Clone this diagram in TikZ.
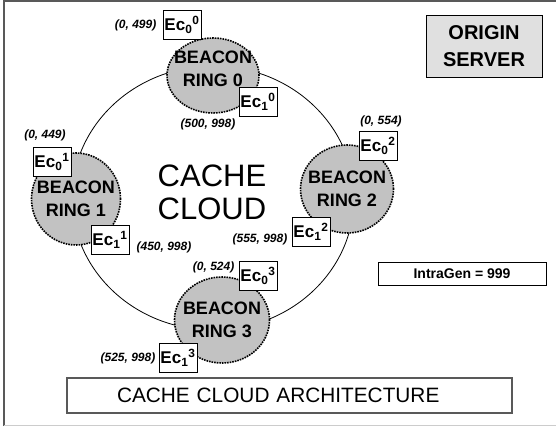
\documentclass[tikz,border=0pt]{standalone}
\usepackage{fontspec}
\setmainfont{Liberation Sans}
\usetikzlibrary{shapes.geometric, positioning}

\definecolor{ringgray}{gray}{0.76}
\definecolor{servergray}{gray}{0.88}
\definecolor{framegray}{gray}{0.35}

\begin{document}
\begin{tikzpicture}[x=1pt,y=1pt,
		ring node/.style={ellipse,draw,fill=ringgray,densely dotted,line width=1.6pt,inner sep=0pt},
		ring text/.style={font=\fontsize{18}{23}\selectfont\bfseries,align=center,inner sep=0pt},
		ec node/.style={rectangle,draw,fill=white,line width=0.9pt,minimum width=38pt,minimum height=29pt,inner sep=1pt,font=\fontsize{17}{18}\selectfont\bfseries},
		coord label/.style={font=\fontsize{12}{14}\selectfont\bfseries\itshape,inner sep=0pt}]
		
		\useasboundingbox (0,0) rectangle (556,426);
		\draw[framegray,line width=2pt] (4,0) -- (4,425) -- (556,425);
		\draw[black!20,line width=0.8pt] (4,0.5) -- (556,0.5);
		
		% the cloud itself
		\draw[line width=0.8pt] (213,228) ellipse [x radius=141, y radius=132];
		\node[font=\fontsize{31}{33}\selectfont,align=center] (cloud) at (212,234) {CACHE\\CLOUD};
		
		% beacon rings
		\node[ring node,minimum width=92pt,minimum height=75pt,label={[ring text,yshift=7pt]center:BEACON\\RING 0}] (ring0) at (213,350.5) {};
		\node[ring node,minimum width=89pt,minimum height=92pt,label={[ring text]center:BEACON\\RING 1}] (ring1) at (76,227) {};
		\node[ring node,minimum width=93pt,minimum height=88pt,label={[ring text]center:BEACON\\RING 2}] (ring2) at (347,237) {};
		\node[ring node,minimum width=95pt,minimum height=86pt,label={[ring text]center:BEACON\\RING 3}] (ring3) at (222,106) {};
		
		% end caches
		\node[ec node] (e00) at (182,401) {Ec\textsubscript{0}\textsuperscript{0}};
		\node[ec node] (e10) at (258,324) {Ec\textsubscript{1}\textsuperscript{0}};
		\node[ec node] (e01) at (52,264) {Ec\textsubscript{0}\textsuperscript{1}};
		\node[ec node] (e11) at (110,186) {Ec\textsubscript{1}\textsuperscript{1}};
		\node[ec node] (e02) at (378,280) {Ec\textsubscript{0}\textsuperscript{2}};
		\node[ec node] (e12) at (311,194) {Ec\textsubscript{1}\textsuperscript{2}};
		\node[ec node] (e03) at (258,150) {Ec\textsubscript{0}\textsuperscript{3}};
		\node[ec node] (e13) at (178,68) {Ec\textsubscript{1}\textsuperscript{3}};
		
		% ranges
		\node[coord label,left=6pt of e00] (r00) {(0, 499)};
		\node[coord label,below=5pt of ring0,xshift=-5pt] (r10) {(500, 998)};
		\node[coord label,above=6pt of e01,xshift=-7pt] (r01) {(0, 449)};
		\node[coord label,right=7pt of e11,yshift=-7pt] (r11) {(450, 998)};
		\node[coord label,above=4pt of e02,xshift=3pt] (r02) {(0, 554)};
		\node[coord label,left=4pt of e12,yshift=-7pt] (r12) {(555, 998)};
		\node[coord label,left=4pt of e03,yshift=9pt] (r03) {(0, 524)};
		\node[coord label,left=3pt of e13] (r13) {(525, 998)};
		
		% side boxes
		\node[draw,fill=servergray,line width=0.9pt,minimum width=116pt,minimum height=62pt,align=center,
			font=\fontsize{20}{27}\selectfont\bfseries] (origin) at (484,380) {ORIGIN\\SERVER};
		\node[draw,line width=0.9pt,minimum width=168pt,minimum height=23pt,
			font=\fontsize{14}{15}\selectfont\bfseries] (intragen) at (462,152.5) {IntraGen = 999};
		\node[draw=framegray,line width=1.3pt,text width=345pt,inner xsep=50pt,minimum height=35pt,align=left,
			font=\fontsize{20.8}{24}\selectfont] (title) at (289.5,30.5) {CACHE CLOUD ARCHITECTURE};
\end{tikzpicture}
\end{document}
